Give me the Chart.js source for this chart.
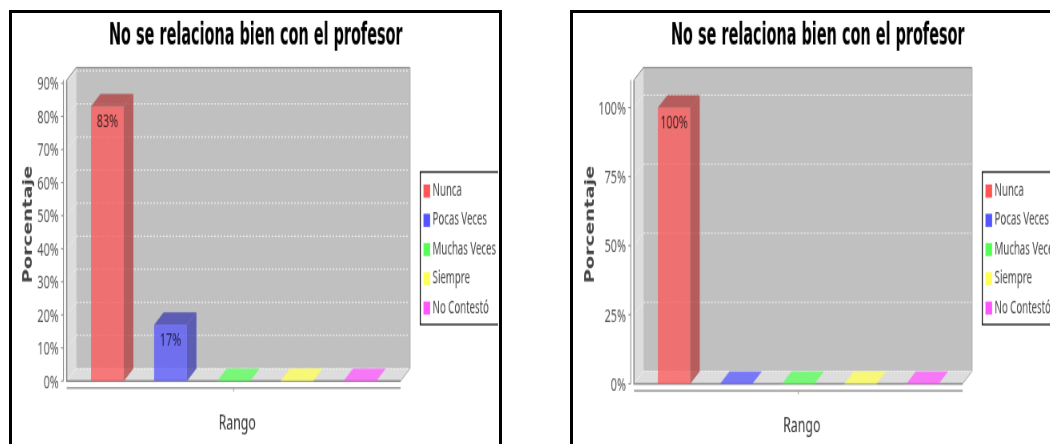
<!DOCTYPE html>
<html>
<head>
<meta charset="utf-8">
<title>No se relaciona bien con el profesor</title>
<script src="https://cdn.jsdelivr.net/npm/chart.js@4/dist/chart.umd.js"></script>
<style>
    html, body { margin: 0; width: 1050px; height: 444px; overflow: hidden; background: #fff; }
    .frame { position: absolute; top: 10px; width: 487px; height: 460px; border: 3px solid #000; }
    canvas { position: absolute; top: 12px; transform-origin: 0 0; transform: scale(0.8, 1.25); }
</style>
</head>
<body>
<div class="frame" style="left:9px"></div>
<div class="frame" style="left:570px"></div>
<canvas id="chartLeft" width="609" height="345" style="left:11px"></canvas>
<canvas id="chartRight" width="609" height="345" style="left:573px"></canvas>
<script>
const titleText = 'No se relaciona bien con el profesor';
const xTitle = 'Rango';
const yTitle = 'Porcentaje';
const categories = [''];
const seriesNames = ['Nunca', 'Pocas Veces', 'Muchas Veces', 'Siempre', 'No Contestó'];
const valuesLeft = [83, 17, 0, 0, 0];
const valuesRight = [100, 0, 0, 0, 0];
const ticksLeft = [0, 10, 20, 30, 40, 50, 60, 70, 80, 90];
const ticksRight = [0, 25, 50, 75, 100];
const maxLeft = 91;
const maxRight = 110;

const solidColors = ['#ff5555', '#5555ff', '#55ff55', '#ffff55', '#ff55ff'];
const frontColors = ['rgba(255,85,85,.75)', 'rgba(85,85,255,.75)', 'rgba(85,255,85,.75)', 'rgba(255,255,85,.75)', 'rgba(255,85,255,.75)'];
const darkColors = ['rgba(178,59,59,.75)', 'rgba(59,59,178,.75)', 'rgba(59,178,59,.75)', 'rgba(178,178,59,.75)', 'rgba(178,59,178,.75)'];

const depthX = 11.9, depthY = 10;
const labelFont = '13.5px "Noto Sans"';

function poly(ctx, pts, fill, stroke) {
    ctx.beginPath();
    pts.forEach((p, i) => i ? ctx.lineTo(p[0], p[1]) : ctx.moveTo(p[0], p[1]));
    ctx.closePath();
    if (fill) { ctx.fillStyle = fill; ctx.fill(); }
    if (stroke) { ctx.strokeStyle = stroke; ctx.stroke(); }
}

// fillText squeezed horizontally, the picture's text is narrower than any installed font
function squeezedText(ctx, text, x, y, squeeze) {
    ctx.save();
    ctx.translate(x, y);
    ctx.scale(squeeze, 1);
    ctx.fillText(text, 0, 0);
    ctx.restore();
}

// Walls, floor and axis lines behind the bars
const wallsPlugin = {
    id: 'walls',
    beforeDatasetsDraw(chart) {
        const ctx = chart.ctx, a = chart.chartArea, y = chart.scales.y, x = chart.scales.x;
        ctx.save();
        poly(ctx, [[a.left, a.top], [a.left + depthX, a.top - depthY], [a.left + depthX, a.bottom - depthY], [a.left, a.bottom]], '#dddddd');
        poly(ctx, [[a.left, a.bottom], [a.left + depthX, a.bottom - depthY], [a.right + depthX, a.bottom - depthY], [a.right, a.bottom]], '#dddddd');
        ctx.fillStyle = '#c0c0c0';
        ctx.fillRect(a.left + depthX, a.top - depthY, a.width, a.height);

        // dotted grid on the back and side walls
        ctx.lineWidth = 1;
        ctx.setLineDash([2, 2]);
        y.ticks.forEach(t => {
            const py = y.getPixelForValue(t.value);
            ctx.strokeStyle = '#f4f4f4';
            ctx.beginPath();
            ctx.moveTo(a.left, py);
            ctx.lineTo(a.left + depthX, py - depthY);
            ctx.lineTo(a.right + depthX, py - depthY);
            ctx.stroke();
        });
        ctx.setLineDash([]);

        // outline
        ctx.strokeStyle = '#808080';
        ctx.beginPath();
        ctx.moveTo(a.left, a.top);
        ctx.lineTo(a.left + depthX, a.top - depthY);
        ctx.lineTo(a.right + depthX, a.top - depthY);
        ctx.stroke();
        ctx.strokeStyle = '#a8a8a8';
        ctx.beginPath();
        ctx.moveTo(a.right + depthX, a.top - depthY);
        ctx.lineTo(a.right + depthX, a.bottom - depthY);
        ctx.lineTo(a.right, a.bottom);
        ctx.stroke();
        ctx.strokeStyle = '#888888';
        ctx.lineWidth = 1.5;
        ctx.beginPath();
        ctx.moveTo(a.left, a.top);
        ctx.lineTo(a.left, a.bottom);
        ctx.lineTo(a.right, a.bottom);
        ctx.stroke();

        // value axis line and ticks
        ctx.lineWidth = 1;
        ctx.strokeStyle = '#808080';
        ctx.beginPath();
        ctx.moveTo(a.left - 4, a.top);
        ctx.lineTo(a.left - 4, a.bottom);
        y.ticks.forEach(t => {
            const py = y.getPixelForValue(t.value);
            ctx.moveTo(a.left - 7, py);
            ctx.lineTo(a.left - 4, py);
        });
        ctx.stroke();

        // category axis line and tick
        const axisY = a.bottom + 5.5, tickX = x.getPixelForTick(0);
        ctx.strokeStyle = '#999999';
        ctx.lineWidth = 1.5;
        ctx.beginPath();
        ctx.moveTo(a.left, axisY);
        ctx.lineTo(a.right, axisY);
        ctx.stroke();
        ctx.lineWidth = 1;
        ctx.beginPath();
        ctx.moveTo(tickX, axisY);
        ctx.lineTo(tickX, axisY + 3);
        ctx.stroke();
        ctx.restore();
    },
    // 3D faces of the bars, value labels, titles and the boxed legend
    afterDatasetsDraw(chart) {
        const ctx = chart.ctx, a = chart.chartArea;
        ctx.save();
        chart.data.datasets.forEach((ds, i) => {
            const bar = chart.getDatasetMeta(i).data[0];
            const l = bar.x - bar.width / 2, r = bar.x + bar.width / 2;
            const value = ds.data[0];
            poly(ctx, [[l, bar.y], [l + depthX, bar.y - depthY], [r + depthX, bar.y - depthY], [r, bar.y]], value > 0 ? darkColors[i] : frontColors[i]);
            if (value > 0) {
                poly(ctx, [[r, bar.y], [r + depthX, bar.y - depthY], [r + depthX, bar.base - depthY], [r, bar.base]], darkColors[i]);
                ctx.font = labelFont;
                ctx.fillStyle = 'rgba(0,0,0,.72)';
                ctx.textAlign = 'center';
                ctx.textBaseline = 'middle';
                ctx.fillText(value + '%', bar.x, bar.y + 13);
            }
        });

        // chart title
        ctx.textAlign = 'center';
        ctx.textBaseline = 'middle';
        ctx.font = 'bold 25px "DejaVu Sans"';
        ctx.fillStyle = '#000';
        squeezedText(ctx, titleText, 306, 19.6, 367 / ctx.measureText(titleText).width);

        // axis titles
        ctx.font = '15.4px "Noto Sans"';
        ctx.fillStyle = '#333';
        ctx.fillText(xTitle, chart.scales.x.getPixelForTick(0) + 4.4, a.bottom + 34);
        ctx.save();
        ctx.translate(21.5, 170);
        ctx.rotate(-Math.PI / 2);
        ctx.font = 'bold 15.5px "DejaVu Sans"';
        ctx.fillStyle = '#444';
        ctx.fillText(yTitle, 0, 0);
        ctx.restore();

        const boxX = 511.6, boxY = 128, boxW = 98.4, boxH = 122;
        ctx.fillStyle = '#fff';
        ctx.fillRect(boxX, boxY, boxW, boxH);
        ctx.strokeStyle = '#000';
        ctx.lineWidth = 1.2;
        ctx.strokeRect(boxX, boxY, boxW, boxH);
        ctx.font = '13.5px "Noto Sans"';
        ctx.textAlign = 'left';
        ctx.textBaseline = 'middle';
        seriesNames.forEach((name, i) => {
            const cy = boxY + 15.2 + i * 23.4;
            ctx.fillStyle = solidColors[i];
            ctx.fillRect(boxX + 4, cy - 5.2, 8.3, 10.5);
            ctx.fillStyle = '#444';
            squeezedText(ctx, name, boxX + 15.5, cy, 0.89);
        });
        ctx.restore();
    }
};

function makeChart(id, values, tickValues, maxValue, yWidth, xHeight) {
    return new Chart(document.getElementById(id), {
        type: 'bar',
        plugins: [wallsPlugin],
        data: {
            labels: categories,
            datasets: seriesNames.map((name, i) => ({
                label: name,
                data: [values[i]],
                backgroundColor: frontColors[i],
                categoryPercentage: 0.945,
                barPercentage: 0.52
            }))
        },
        options: {
            responsive: false,
            animation: false,
            devicePixelRatio: 1,
            layout: { padding: { right: 122, top: 54.4 } },
            plugins: {
                legend: { display: false },
                tooltip: { enabled: false }
            },
            scales: {
                x: {
                    grid: { display: false, drawTicks: false },
                    border: { display: false },
                    ticks: { display: false },
                    afterFit: s => { s.height = xHeight; }
                },
                y: {
                    min: 0,
                    max: maxValue,
                    afterBuildTicks: s => { s.ticks = tickValues.map(v => ({ value: v })); },
                    grid: { display: false, drawTicks: false },
                    border: { display: false },
                    ticks: { color: '#555', font: { family: '"Noto Sans"', size: 13.5 }, padding: 10, labelOffset: 1.5, callback: v => v + '%' },
                    afterFit: s => { s.width = yWidth; }
                }
            }
        }
    });
}

makeChart('chartLeft', valuesLeft, ticksLeft, maxLeft, 69.6, 49.8);
makeChart('chartRight', valuesRight, ticksRight, maxRight, 76.2, 47.6);
</script>
</body>
</html>
